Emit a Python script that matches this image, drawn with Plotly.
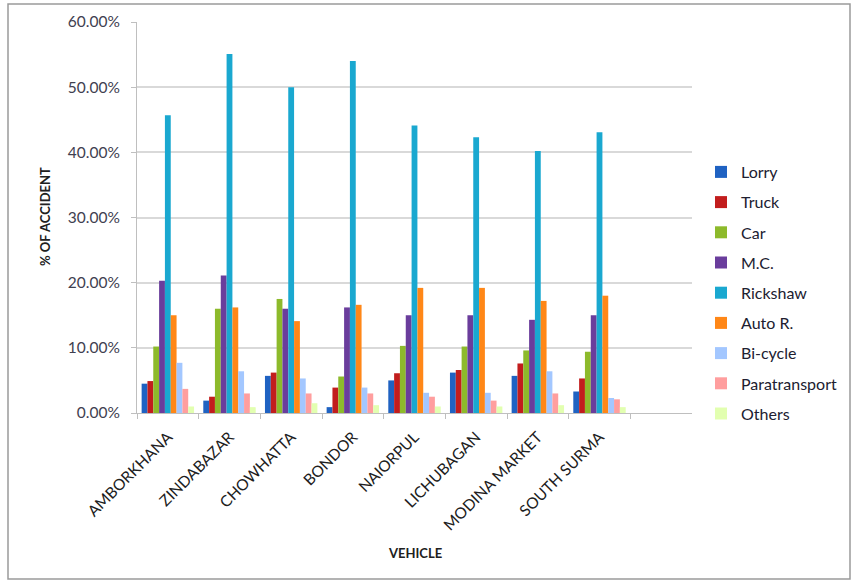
import plotly.graph_objects as go

locations = ["AMBORKHANA", "ZINDABAZAR", "CHOWHATTA", "BONDOR", "NAIORPUL",
             "LICHUBAGAN", "MODINA MARKET", "SOUTH SURMA"]

lorry = [4.5, 1.9, 5.7, 0.9, 5.0, 6.2, 5.7, 3.3]
truck = [4.9, 2.5, 6.2, 3.9, 6.1, 6.6, 7.6, 5.3]
car = [10.2, 16.0, 17.5, 5.6, 10.3, 10.2, 9.6, 9.4]
mc = [20.3, 21.1, 16.0, 16.2, 15.0, 15.0, 14.3, 15.0]
rickshaw = [45.7, 55.1, 50.0, 54.0, 44.1, 42.3, 40.2, 43.1]
auto_r = [15.0, 16.2, 14.1, 16.6, 19.2, 19.2, 17.2, 18.0]
bicycle = [7.7, 6.4, 5.3, 3.9, 3.1, 3.1, 6.4, 2.3]
paratransport = [3.7, 3.0, 3.0, 3.0, 2.5, 1.9, 3.0, 2.1]
others = [1.0, 0.9, 1.5, 1.2, 1.0, 1.0, 1.2, 0.9]

series_names = ["Lorry", "Truck", "Car", "M.C.", "Rickshaw", "Auto R.",
                "Bi-cycle", "Paratransport", "Others"]
series_values = [lorry, truck, car, mc, rickshaw, auto_r, bicycle,
                 paratransport, others]
colors = ["#1f62c2", "#c21d1d", "#8dba2b", "#6a3d9c", "#1aa8d0", "#ff8717",
          "#a3c7ff", "#ff9e9e", "#e2ffb0"]

y_ticks = [0, 10, 20, 30, 40, 50, 60]

fig = go.Figure()
for i, (name, vals, col) in enumerate(zip(series_names, series_values, colors)):
    fig.add_trace(go.Bar(
        x=locations, y=vals, name=name, marker_color=col,
        marker_line_width=0, legendgroup=name,
    ))

W, H = 854, 584
L, R, T, B = 137, 692, 22, 413
pw, ph = R - L, B - T

def px(x):
    return (x - L) / pw

def py(y):
    return (B - y) / ph

fig.update_layout(
    width=W, height=H,
    margin=dict(l=L, r=W - R, t=T, b=H - B, autoexpand=False),
    paper_bgcolor="white", plot_bgcolor="white",
    barmode="group", bargap=0.15, bargroupgap=0,
    font=dict(family="Lato, 'Open Sans', sans-serif", color="#404050"),
    showlegend=True,
    legend=dict(x=px(701), xanchor="left", y=py(155), yanchor="top",
                font=dict(size=16, color="#202030"),
                tracegroupgap=6.4, bgcolor="rgba(0,0,0,0)"),
    xaxis=dict(
        type="category", range=[-0.5, 8.5], tickangle=-45,
        tickfont=dict(size=15.5, color="#202020"), automargin=False,
        ticklabelstandoff=8,
        showline=True, linecolor="#bfbfbf", linewidth=1,
        ticks="outside", tickson="boundaries", ticklen=5, tickcolor="#bfbfbf",
        showgrid=False,
    ),
    yaxis=dict(
        range=[0, 60], tickvals=y_ticks,
        ticktext=[f"{v:.2f}%" for v in y_ticks],
        tickfont=dict(size=15.5, color="#404050"), automargin=False,
        ticklabelstandoff=8,
        showline=True, linecolor="#bfbfbf", linewidth=1,
        ticks="outside", ticklen=5, tickcolor="#bfbfbf",
        showgrid=True, gridcolor="#d9d9d9", gridwidth=1.5,
        zeroline=False,
    ),
    shapes=[dict(type="rect", xref="paper", yref="paper",
                 x0=px(8), x1=px(850), y0=py(579), y1=py(4),
                 line=dict(color="#9a9a9a", width=1.5), layer="below")],
    annotations=[
        dict(text="<b>% OF ACCIDENT</b>", xref="paper", yref="paper",
             x=px(45), y=py(217), xanchor="center", yanchor="middle",
             textangle=-90, showarrow=False,
             font=dict(size=13, color="#202020")),
        dict(text="<b>VEHICLE</b>", xref="paper", yref="paper",
             x=px(415), y=py(553), xanchor="center", yanchor="middle",
             showarrow=False,
             font=dict(size=13, color="#202020")),
    ],
)

fig.write_html("out.html")
